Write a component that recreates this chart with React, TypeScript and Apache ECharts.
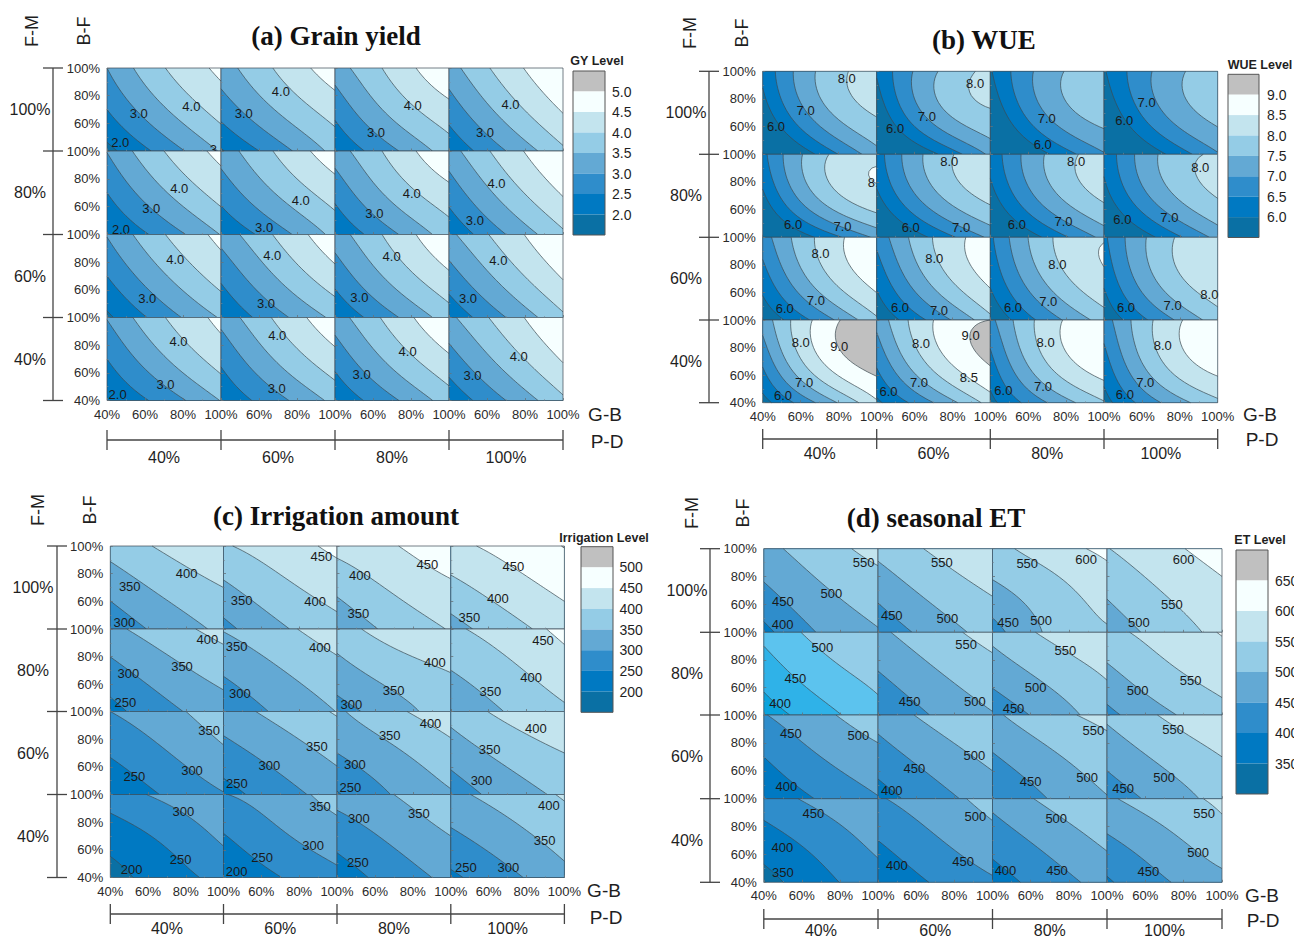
import React, { useEffect, useRef } from "react";
import * as echarts from "echarts";

type Grid3 = number[][];
type Lab = [number, number, string];

// Values read at G-B 40/70/100% (columns) and B-F 100/70/40% (rows). Cells run row by row, F-M 100→40, P-D 40→100.
const gyValues: Grid3[] = [
  [[3.0,3.98,4.6],[2.5,3.45,4.2],[1.85,2.69,3.55]],
  [[3.25,4.07,4.8],[2.7,3.55,4.24],[1.95,2.78,3.66]],
  [[3.25,4.15,4.95],[2.65,3.65,4.35],[2.08,2.9,3.75]],
  [[3.28,4.25,4.98],[2.72,3.72,4.55],[2.12,3.0,3.9]],
  [[3.02,4.0,4.62],[2.5,3.45,4.2],[1.98,2.7,3.52]],
  [[3.22,4.07,4.8],[2.68,3.55,4.25],[2.08,2.8,3.65]],
  [[3.25,4.15,4.95],[2.65,3.65,4.35],[2.08,2.9,3.75]],
  [[3.28,4.25,4.98],[2.7,3.72,4.55],[2.12,3.0,3.9]],
  [[3.03,3.98,4.62],[2.5,3.45,4.22],[1.9,2.75,3.55]],
  [[3.2,4.08,4.85],[2.6,3.55,4.33],[2.05,2.85,3.62]],
  [[3.25,4.15,4.95],[2.68,3.65,4.42],[2.1,2.9,3.75]],
  [[3.38,4.25,4.99],[2.77,3.72,4.55],[2.15,3.0,3.9]],
  [[3.03,3.98,4.62],[2.5,3.45,4.22],[2.0,2.7,3.52]],
  [[3.17,4.1,4.85],[2.6,3.57,4.33],[2.1,2.85,3.65]],
  [[3.25,4.18,4.97],[2.67,3.65,4.42],[2.12,2.9,3.75]],
  [[3.38,4.25,4.99],[2.77,3.72,4.55],[2.15,3.0,3.9]],
];
const wueValues: Grid3[] = [
  [[6.1,7.58,8.2],[5.7,7.28,8.05],[4.8,6.1,7.3]],
  [[6.05,7.42,8.12],[5.6,7.25,7.95],[4.8,5.9,7.1]],
  [[5.95,7.25,7.85],[5.5,7.05,7.72],[4.7,5.95,6.95]],
  [[5.95,7.15,7.8],[5.5,6.95,7.68],[4.7,5.9,6.95]],
  [[6.35,7.85,8.37],[5.9,7.6,8.37],[5.0,6.1,7.1]],
  [[6.25,7.7,8.25],[5.9,7.37,8.15],[5.0,6.1,7.1]],
  [[6.15,7.55,8.2],[5.8,7.28,8.1],[5.0,6.1,7.15]],
  [[6.1,7.55,8.03],[5.8,7.25,8.03],[5.0,6.1,7.15]],
  [[6.75,8.1,8.85],[6.25,7.78,8.7],[5.6,6.7,7.9]],
  [[6.65,8.02,8.72],[6.15,7.67,8.62],[5.6,6.65,7.85]],
  [[6.4,7.9,8.47],[6.1,7.6,8.42],[5.55,6.72,7.72]],
  [[6.4,7.78,8.4],[6.1,7.62,8.35],[5.6,6.75,7.75]],
  [[7.2,8.65,9.4],[6.6,8.45,9.22],[5.8,7.1,8.42]],
  [[7.15,8.5,9.0],[6.6,8.2,9.05],[5.9,7.0,8.2]],
  [[6.85,8.25,8.9],[6.35,8.03,8.8],[5.85,7.0,7.95]],
  [[6.75,8.15,8.85],[6.3,7.97,8.72],[5.8,7.0,7.88]],
];
const irrValues: Grid3[] = [
  [[370,410,445],[317,364,400],[265,318,361]],
  [[395,427,462],[340,387,422],[285,342,385]],
  [[416,447,487],[362,407,441],[309,364,403]],
  [[437,467,502],[384,426,463],[330,380,424]],
  [[337,380,418],[283,332,371],[233,287,328]],
  [[353,388,430],[307,348,385],[258,310,351]],
  [[378,423,447],[330,374,402],[280,328,378]],
  [[392,424,463],[350,389,428],[305,353,392]],
  [[300,336,380],[255,298,342],[207,256,297]],
  [[327,367,405],[280,322,363],[230,279,322]],
  [[342,390,430],[300,342,384],[245,303,345]],
  [[368,415,448],[320,366,400],[270,322,360]],
  [[275,313,345],[222,262,310],[180,227,265]],
  [[298,328,372],[247,293,329],[205,249,288]],
  [[318,350,395],[270,311,350],[220,272,312]],
  [[338,372,405],[290,331,372],[240,287,335]],
];
const etValues: Grid3[] = [
  [[485,528,568],[440,493,527],[385,455,497]],
  [[515,558,592],[465,517,555],[415,472,520]],
  [[532,576,612],[487,531,574],[428,508,545]],
  [[548,587,622],[508,553,590],[470,520,565]],
  [[465,515,543],[420,478,515],[375,430,485]],
  [[490,532,568],[447,495,532],[398,455,497]],
  [[515,560,592],[468,515,555],[415,470,527]],
  [[537,570,603],[487,537,570],[437,490,535]],
  [[447,490,525],[400,450,487],[360,405,447]],
  [[470,515,546],[425,473,512],[377,430,475]],
  [[490,535,562],[445,491,530],[398,452,497]],
  [[510,555,590],[465,512,550],[420,470,520]],
  [[425,465,497],[377,420,465],[330,385,428]],
  [[445,480,517],[400,445,483],[355,405,443]],
  [[465,512,548],[420,467,510],[375,425,470]],
  [[492,530,558],[442,486,530],[393,445,482]],
];

// Contour labels: [G-B %, B-F %, text]
const gyLabels: Lab[][] = [
  [[84.4,71.9,"4.0"],[56.7,66.9,"3.0"],[47,45.8,"2.0"],[98.8,41.2,"3.5"]],
  [[71.5,82.7,"4.0"],[52,66.9,"3.0"]],
  [[80.9,73.1,"4.0"],[61.6,53.7,"3.0"]],
  [[72.4,73.8,"4.0"],[58.9,53.2,"3.0"]],
  [[78,72.7,"4.0"],[63.3,58.4,"3.0"],[47.4,43.9,"2.0"]],
  [[82,64.4,"4.0"],[62.7,45.1,"3.0"]],
  [[80.4,69.5,"4.0"],[60.7,54.8,"3.0"]],
  [[65,76.8,"4.0"],[53.6,49.9,"3.0"]],
  [[75.9,81.7,"4.0"],[61.2,53.7,"3.0"]],
  [[67,84.6,"4.0"],[63.7,49.9,"3.0"]],
  [[69.8,84.1,"4.0"],[52.8,54.5,"3.0"]],
  [[66,81,"4.0"],[50,54,"3.0"]],
  [[77.6,82.4,"4.0"],[70.8,51.8,"3.0"],[45.6,44.1,"2.0"]],
  [[69.6,86.7,"4.0"],[69.3,48.9,"3.0"]],
  [[78.2,75.4,"4.0"],[54,58.5,"3.0"]],
  [[76.7,71.8,"4.0"],[52.4,58,"3.0"]],
];
const wueLabels: Lab[][] = [
  [[84.2,94.7,"8.0"],[62.6,71.6,"7.0"],[47,60.3,"6.0"]],
  [[92,91,"8.0"],[66.5,67.5,"7.0"],[49.7,59,"6.0"]],
  [[69.8,66.1,"7.0"],[67.7,46.8,"6.0"]],
  [[62.5,77.5,"7.0"],[50.7,64.2,"6.0"]],
  [[100,79.5,"8.5"],[56,48.9,"6.0"],[82,47.7,"7.0"]],
  [[78.3,94.7,"8.0"],[58,47.2,"6.0"],[84.6,47.2,"7.0"]],
  [[85.3,94.7,"8.0"],[78.6,51.4,"7.0"],[54,49,"6.0"]],
  [[90.8,90.3,"8.0"],[74.5,54.6,"7.0"],[49.7,52.7,"6.0"]],
  [[70.4,88.4,"8.0"],[68,54,"7.0"],[51.6,48.5,"6.0"]],
  [[70.4,84.8,"8.0"],[52.3,49,"6.0"],[72.9,46.8,"7.0"]],
  [[75.4,80.6,"8.0"],[70.6,53.3,"7.0"],[52,49,"6.0"]],
  [[95.6,58.6,"8.0"],[76.2,50.2,"7.0"],[51.6,49,"6.0"]],
  [[60,83.8,"8.0"],[80.3,80.6,"9.0"],[61.8,54.5,"7.0"],[50.7,45.4,"6.0"]],
  [[89.6,88.9,"9.0"],[63.4,82.8,"8.0"],[88.7,58.1,"8.5"],[62.3,55,"7.0"],[46.2,48.2,"6.0"]],
  [[69.2,83.5,"8.0"],[67.8,52,"7.0"],[46.9,48.6,"6.0"]],
  [[71,81.4,"8.0"],[61.8,55,"7.0"],[51,45.8,"6.0"]],
];
const irrLabels: Lab[][] = [
  [[80.4,80.3,"400"],[50.3,70.7,"350"],[47.4,45,"300"]],
  [[91.7,92.3,"450"],[88.4,60,"400"],[49.6,60.9,"350"]],
  [[87.6,86.8,"450"],[52,78.6,"400"],[51.3,51.3,"350"]],
  [[73,84.9,"450"],[64.9,62,"400"],[49.8,48.4,"350"]],
  [[91.4,92.2,"400"],[78,73,"350"],[49.6,68,"300"],[48,46.6,"250"]],
  [[90.9,86.3,"400"],[46.9,87,"350"],[48.7,53,"300"]],
  [[91.6,75.4,"400"],[69.8,55.4,"350"],[47.6,44.9,"300"]],
  [[88.7,91.7,"450"],[82.4,64.6,"400"],[60.9,54.9,"350"]],
  [[92.4,86,"350"],[83.3,57.6,"300"],[52.7,52.8,"250"]],
  [[89.3,74.5,"350"],[64.2,61.2,"300"],[47.1,48,"250"]],
  [[89.3,91.3,"400"],[67.8,82.4,"350"],[49.4,61.4,"300"],[47.1,44.8,"250"]],
  [[84.9,88,"400"],[60.5,72.5,"350"],[56.2,50,"300"]],
  [[78.7,87.5,"300"],[77.3,53,"250"],[51.3,45.5,"200"]],
  [[91,91.4,"350"],[87.4,63.3,"300"],[60.4,54.4,"250"],[46.9,44.3,"200"]],
  [[83.2,86.6,"350"],[51.5,82.5,"300"],[51,51,"250"]],
  [[91.8,92,"400"],[89.6,66.9,"350"],[70.4,47.2,"300"],[48,47.4,"250"]],
];
const etLabels: Lab[][] = [
  [[92.4,90,"550"],[75.5,68,"500"],[50,62,"450"],[49.9,45.3,"400"]],
  [[73.5,90.2,"550"],[76.4,50,"500"],[47.2,52.2,"450"]],
  [[89.1,92.4,"600"],[58.2,89.7,"550"],[65.5,48.4,"500"],[48.2,47,"450"]],
  [[80,92.4,"600"],[73.8,60,"550"],[56.6,47,"500"]],
  [[70.8,89.3,"500"],[56.6,66.8,"450"],[48.6,48.5,"400"]],
  [[86.2,91.5,"550"],[90.8,50,"500"],[56.6,50,"450"]],
  [[78.2,87,"550"],[62.6,59.8,"500"],[51,45,"450"]],
  [[83.6,65.2,"550"],[56,57.8,"500"]],
  [[89.7,85,"500"],[54.2,87,"450"],[51.9,49.1,"400"]],
  [[90.5,70.8,"500"],[59.1,61.3,"450"],[47.2,45.7,"400"]],
  [[92.8,88.8,"550"],[89.6,55.5,"500"],[60,52.4,"450"]],
  [[74.5,89.7,"550"],[69.8,55,"500"],[48.4,47.2,"450"]],
  [[66,89.7,"450"],[49.7,65.3,"400"],[50,46.7,"350"]],
  [[91,86.9,"500"],[84.6,55,"450"],[49.9,52,"400"]],
  [[73.4,85.7,"500"],[73.8,48.6,"450"],[46.8,48.2,"400"]],
  [[90.7,89.7,"550"],[87.5,61.5,"500"],[61.6,47.9,"450"]],
];

const gyLevels = [2.0, 2.5, 3.0, 3.5, 4.0, 4.5, 5.0];
const wueLevels = [6.0, 6.5, 7.0, 7.5, 8.0, 8.5, 9.0];
const irrLevels = [200, 250, 300, 350, 400, 450, 500];
const etLevels = [350, 400, 450, 500, 550, 600, 650];

const rowNames = ["100%", "80%", "60%", "40%"];
const colNames = ["40%", "60%", "80%", "100%"];

const palette = ["#0a70a4", "#0079c2", "#2f8dcb", "#63a9d4", "#94cce6", "#c3e4ee", "#f6ffff", "#c0c0c0"];
const brightPalette = ["#0a70a4", "#0aa3dd", "#2fb2e8", "#5cc3ee", "#94cde8", "#c3e4ee", "#f6ffff", "#c0c0c0"];

const panels = [
  { title: "(a) Grain yield", titleX: 336, titleY: 36, values: gyValues, labels: gyLabels, levels: gyLevels, digits: 1,
    xs: [107, 221, 335, 449, 563], ys: [68, 151, 234.5, 317.5, 400.5],
    fmX: 32, bfX: 84, topLabelY: 31, brX: 53, rowLabelX: 30, pdY: 440, pdLabelY: 457,
    gbX: 605, gbY: 414, pX: 607, pY: 441,
    legendName: "GY Level", legendNameX: 597, legendNameY: 61, legX: 573, legW: 32, legTop: 71, legH: 20.5, legLabelX: 612 },
  { title: "(b) WUE", titleX: 984, titleY: 40, values: wueValues, labels: wueLabels, levels: wueLevels, digits: 1,
    xs: [762.7, 876.7, 990.3, 1104, 1217.7], ys: [71.3, 154.3, 237.3, 320, 402.7],
    fmX: 690, bfX: 742, topLabelY: 33, brX: 709, rowLabelX: 686, pdY: 439, pdLabelY: 453,
    gbX: 1260, gbY: 414, pX: 1262, pY: 439,
    legendName: "WUE Level", legendNameX: 1260, legendNameY: 65, legX: 1228, legW: 31, legTop: 74.3, legH: 20.4, legLabelX: 1267 },
  { title: "(c) Irrigation amount", titleX: 336, titleY: 516, values: irrValues, labels: irrLabels, levels: irrLevels, digits: 0,
    xs: [110.3, 223.5, 337, 450.8, 564.4], ys: [546, 629, 711.5, 794.5, 877.5],
    fmX: 38, bfX: 90, topLabelY: 510, brX: 57, rowLabelX: 33, pdY: 914, pdLabelY: 928,
    gbX: 604, gbY: 890, pX: 606, pY: 917,
    legendName: "Irrigation Level", legendNameX: 604, legendNameY: 537.7, legX: 581, legW: 32, legTop: 546.7, legH: 20.7, legLabelX: 619.5 },
  { title: "(d) seasonal ET", titleX: 936, titleY: 518, values: etValues, labels: etLabels, levels: etLevels, digits: 0,
    xs: [763.8, 878, 992.5, 1107, 1222], ys: [548.7, 632.3, 715, 798.7, 882.3],
    fmX: 692, bfX: 743, topLabelY: 513, brX: 710, rowLabelX: 687, pdY: 919, pdLabelY: 930,
    gbX: 1262, gbY: 895, pX: 1263, pY: 920,
    legendName: "ET Level", legendNameX: 1260, legendNameY: 540, legX: 1236, legW: 32, legTop: 550, legH: 30.5, legLabelX: 1275 },
];

const SANS = '"Liberation Sans", Arial, sans-serif';
const SERIF = '"Liberation Serif", "Times New Roman", serif';

// Biquadratic surface through the nine values read for one cell
function surface(grid: Grid3) {
  const l = (t: number) => [(t - 1) * (t - 2) / 2, t * (2 - t), t * (t - 1) / 2];
  return (tx: number, ty: number) => {
    const lx = l(tx), ly = l(ty);
    let s = 0;
    for (let r = 0; r < 3; r++) for (let c = 0; c < 3; c++) s += grid[2 - r][c] * ly[r] * lx[c];
    return s;
  };
}

function contourCell(grid: Grid3, levels: number[], n = 24) {
  const f = surface(grid);
  const V: number[][] = [];
  for (let j = 0; j <= n; j++) {
    const row: number[] = [];
    for (let i = 0; i <= n; i++) row.push(f((i / n) * 2, (j / n) * 2));
    V.push(row);
  }
  const px = (i: number) => 40 + (60 * i) / n;
  type P = [number, number];
  const out: { loops: P[][]; lines: P[][] }[] = [];
  for (const L of levels) {
    const edges: [P, P][] = [];
    const cuts: [P, P][] = [];
    const cross = (a: number[], b: number[]): P => {
      const swap = a[1] > b[1] || (a[1] === b[1] && a[0] > b[0]);
      const p = swap ? b : a, q = swap ? a : b;
      const vp = V[p[1]][p[0]], vq = V[q[1]][q[0]];
      const t = (L - vp) / (vq - vp);
      return [px(p[0]) + (px(q[0]) - px(p[0])) * t, px(p[1]) + (px(q[1]) - px(p[1])) * t];
    };
    for (let j = 0; j < n; j++) for (let i = 0; i < n; i++) {
      const corners = [[i, j], [i + 1, j], [i + 1, j + 1], [i, j + 1]];
      const onBoundary = [j === 0, i + 1 === n, j + 1 === n, i === 0];
      const ev: { kind: number; pt: P }[] = [];
      for (let k = 0; k < 4; k++) {
        const a = corners[k], b = corners[(k + 1) % 4];
        const ain = V[a[1]][a[0]] >= L, bin = V[b[1]][b[0]] >= L;
        const pa: P = [px(a[0]), px(a[1])], pb: P = [px(b[0]), px(b[1])];
        if (ain && bin) { if (onBoundary[k]) edges.push([pa, pb]); }
        else if (ain && !bin) { const x = cross(a, b); if (onBoundary[k]) edges.push([pa, x]); ev.push({ kind: 0, pt: x }); }
        else if (!ain && bin) { const x = cross(a, b); if (onBoundary[k]) edges.push([x, pb]); ev.push({ kind: 1, pt: x }); }
      }
      for (let e = 0; e < ev.length; e++) {
        if (ev[e].kind === 0) {
          const nx = ev[(e + 1) % ev.length];
          edges.push([ev[e].pt, nx.pt]);
          cuts.push([ev[e].pt, nx.pt]);
        }
      }
    }
    out.push({ loops: chain(edges), lines: chain(cuts) });
  }
  return out;
}

function chain(segs: [number, number][][] | any[]) {
  const key = (p: number[]) => p[0].toFixed(5) + "," + p[1].toFixed(5);
  const byStart = new Map<string, number[]>();
  const incoming = new Set<string>();
  segs.forEach((s: any, idx: number) => {
    const k = key(s[0]);
    if (!byStart.has(k)) byStart.set(k, []);
    byStart.get(k)!.push(idx);
    incoming.add(key(s[1]));
  });
  const used = new Array(segs.length).fill(false);
  const res: any[] = [];
  const walk = (startIdx: number) => {
    const pts = [segs[startIdx][0], segs[startIdx][1]];
    used[startIdx] = true;
    for (;;) {
      const list = byStart.get(key(pts[pts.length - 1])) || [];
      const nxt = list.find((i) => !used[i]);
      if (nxt === undefined) break;
      used[nxt] = true;
      pts.push(segs[nxt][1]);
    }
    res.push(pts);
  };
  segs.forEach((s: any, i: number) => { if (!used[i] && !incoming.has(key(s[0]))) walk(i); });
  segs.forEach((_: any, i: number) => { if (!used[i]) walk(i); });
  return res;
}

function buildOption() {
  const grid: any[] = [], xAxis: any[] = [], yAxis: any[] = [], series: any[] = [], graphic: any[] = [];
  const txt = (text: string, x: number, y: number, font: string, extra: any = {}, fill = "#1f1f1f") => ({
    type: "text", x, y, silent: true, ...extra,
    style: { text, font, fill, align: extra.align || "center", verticalAlign: "middle" },
  });
  const line = (x1: number, y1: number, x2: number, y2: number, stroke = "#444", lineWidth = 1.3) => ({
    type: "line", silent: true, shape: { x1, y1, x2, y2 }, style: { stroke, lineWidth },
  });

  panels.forEach((p, pi) => {
    graphic.push(txt(p.title, p.titleX, p.titleY, `bold 27px ${SERIF}`, {}, "#111"));
    graphic.push(txt("F-M", p.fmX, p.topLabelY, `18px ${SANS}`, { rotation: Math.PI / 2 }));
    graphic.push(txt("B-F", p.bfX, p.topLabelY, `18px ${SANS}`, { rotation: Math.PI / 2 }));
    graphic.push(txt("G-B", p.gbX, p.gbY, `19px ${SANS}`));
    graphic.push(txt("P-D", p.pX, p.pY, `19px ${SANS}`));
    // brackets
    graphic.push(line(p.brX, p.ys[0], p.brX, p.ys[4]));
    p.ys.forEach((y) => graphic.push(line(p.brX - 10, y, p.brX + 10, y)));
    graphic.push(line(p.xs[0], p.pdY, p.xs[4], p.pdY));
    p.xs.forEach((x) => graphic.push(line(x, p.pdY - 10, x, p.pdY + 10)));
    rowNames.forEach((t, r) => graphic.push(txt(t, p.rowLabelX, (p.ys[r] + p.ys[r + 1]) / 2, `16px ${SANS}`)));
    colNames.forEach((t, c) => graphic.push(txt(t, (p.xs[c] + p.xs[c + 1]) / 2, p.pdLabelY, `16px ${SANS}`)));
    // legend
    graphic.push(txt(p.legendName, p.legendNameX, p.legendNameY, `bold 12.5px ${SANS}`));
    const legBands = [...palette].reverse();
    legBands.forEach((c, i) => graphic.push({
      type: "rect", silent: true,
      shape: { x: p.legX, y: p.legTop + i * p.legH, width: p.legW, height: p.legH },
      style: { fill: c },
    }));
    graphic.push({
      type: "rect", silent: true,
      shape: { x: p.legX, y: p.legTop, width: p.legW, height: p.legH * 8 },
      style: { fill: "none", stroke: "#555", lineWidth: 1 },
    });
    [...p.levels].reverse().forEach((lv, i) => graphic.push(
      txt(lv.toFixed(p.digits), p.legLabelX, p.legTop + (i + 1) * p.legH, `14px ${SANS}`, { align: "left" }),
    ));

    // cells
    for (let r = 0; r < 4; r++) for (let c = 0; c < 4; c++) {
      const idx = grid.length;
      const cellIdx = r * 4 + c;
      const cellPalette = pi === 3 && cellIdx === 4 ? brightPalette : palette;
      grid.push({
        left: p.xs[c], top: p.ys[r], width: p.xs[c + 1] - p.xs[c], height: p.ys[r + 1] - p.ys[r],
        containLabel: false, show: false,
      });
      const axisCommon = {
        type: "value", min: 40, max: 100, interval: 20, gridIndex: idx, z: 10,
        axisLine: { show: false },
        splitLine: { show: false },
        axisTick: { show: true, inside: true, length: 2.5, lineStyle: { color: "#66727a", width: 0.8 } },
        minorTick: { show: true, splitNumber: 2, length: 1.5, lineStyle: { color: "#7d8890", width: 0.6 } },
      };
      xAxis.push({
        ...axisCommon, position: "bottom",
        axisLabel: {
          show: r === 3, margin: 7, fontSize: 13, fontFamily: SANS, color: "#2a2a2a",
          formatter: "{value}%", showMinLabel: c === 0, showMaxLabel: true, hideOverlap: false,
        },
      });
      yAxis.push({
        ...axisCommon, position: "left",
        axisLabel: {
          show: c === 0, margin: 7, fontSize: 13, fontFamily: SANS, color: "#2a2a2a",
          formatter: "{value}%", showMinLabel: r === 3, showMaxLabel: true, hideOverlap: false,
        },
      });
      const contours = contourCell(p.values[cellIdx], p.levels);
      const cellLabels = p.labels[cellIdx];
      series.push({
        type: "custom", coordinateSystem: "cartesian2d", xAxisIndex: idx, yAxisIndex: idx,
        silent: true, clip: false, z: 2,
        data: [[70, 70]],
        renderItem: (_params: any, api: any) => {
          const toPx = (pts: number[][]) => pts.map((q) => api.coord(q));
          const a = api.coord([40, 100]), b = api.coord([100, 40]);
          const children: any[] = [{
            type: "rect", shape: { x: a[0], y: a[1], width: b[0] - a[0], height: b[1] - a[1] },
            style: { fill: cellPalette[0] },
          }];
          contours.forEach((ct, li) => ct.loops.forEach((loop: number[][]) => children.push({
            type: "polygon", shape: { points: toPx(loop) }, style: { fill: cellPalette[li + 1] },
          })));
          contours.forEach((ct) => ct.lines.forEach((ln: number[][]) => children.push({
            type: "polyline", shape: { points: toPx(ln) },
            style: { fill: "none", stroke: "#3c4a52", lineWidth: 0.7 },
          })));
          children.push({
            type: "rect", shape: { x: a[0], y: a[1], width: b[0] - a[0], height: b[1] - a[1] },
            style: { fill: "none", stroke: "rgba(60,72,82,0.7)", lineWidth: 1 },
          });
          cellLabels.forEach((lb) => {
            const q = api.coord([lb[0], lb[1]]);
            children.push({
              type: "text", x: q[0], y: q[1],
              style: { text: lb[2], font: `13px ${SANS}`, fill: "#1a1a1a", align: "center", verticalAlign: "middle" },
            });
          });
          return { type: "group", children };
        },
      });
    }
  });

  return { animation: false, backgroundColor: "#ffffff", grid, xAxis, yAxis, series, graphic: { elements: graphic } };
}

export default function App() {
  const ref = useRef<HTMLDivElement>(null);
  useEffect(() => {
    if (!ref.current) return;
    const chart = echarts.init(ref.current, undefined, { renderer: "svg" });
    chart.setOption(buildOption() as any);
    return () => chart.dispose();
  }, []);
  return <div ref={ref} style={{ position: "fixed", left: 0, top: 0, width: 1294, height: 939 }} />;
}
